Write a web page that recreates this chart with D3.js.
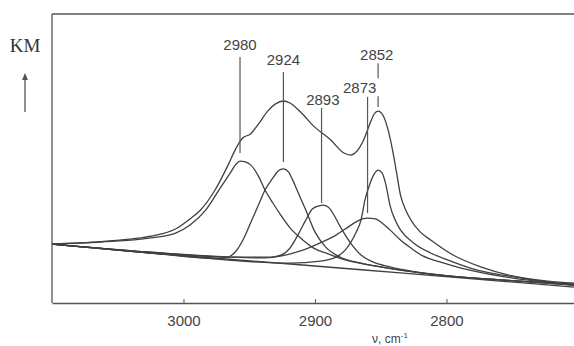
<!DOCTYPE html>
<html>
<head>
<meta charset="utf-8">
<script src="https://cdn.jsdelivr.net/npm/d3@7"></script>
<style>
  body { margin: 0; background: #fff; }
  svg { display: block; }
</style>
</head>
<body>
<svg id="chart" width="574" height="346"></svg>
<script>
// [wavenumber cm-1, KM (arb.)]
const baseline = [[3100,20.4],[3025,17.3],[2919,13.5],[2835,10.4],[2759,7.6],[2703,5.5]];

const envelope = [[3100,20.4],[3078,20.8],[3056,21.5],[3033,22.5],[3017,23.9],[3006,25.6],[2995,29.1],
  [2987,32.2],[2976,39.1],[2966,47.8],[2960,53.6],[2955,57.1],[2949,58.5],[2943,61.9],[2936,66.4],
  [2930,68.9],[2924,69.9],[2919,69.2],[2911,66.1],[2901,61.2],[2888,56.4],[2878,51.9],[2873,51.2],
  [2868,52.6],[2863,56.4],[2858,62.3],[2855,65.4],[2852,66.4],[2848,64.7],[2844,59.2],[2841,52.9],
  [2838,45.3],[2835,37.4],[2831,32.2],[2827,28.7],[2820,24.6],[2812,21.8],[2795,16.6],[2774,12.5],
  [2749,9.3],[2723,7.6],[2703,6.9]];

const band2980 = [[3100,20.4],[3063,21.1],[3025,22.5],[3006,24.2],[2995,27.0],[2983,32.2],[2972,39.8],
  [2964,45.3],[2960,48.1],[2957,49.1],[2953,48.8],[2949,47.8],[2943,43.9],[2938,39.1],[2932,34.6],
  [2926,30.4],[2919,26.0],[2911,22.5],[2901,19.0],[2890,17.0],[2877,14.9],[2858,13.1],[2835,11.4],
  [2797,9.3],[2759,8.0],[2703,6.6]];

const band2924 = [[3100,20.4],[3025,17.3],[2976,15.4],[2966,15.9],[2960,18.0],[2954,22.5],[2949,27.7],
  [2943,33.9],[2938,39.1],[2932,43.3],[2928,45.7],[2924,46.4],[2920,45.3],[2917,42.6],[2913,38.4],
  [2907,32.2],[2900,24.6],[2892,19.4],[2881,15.9],[2865,13.8],[2835,11.4],[2797,9.3],[2759,8.0],
  [2703,6.2]];

const band2893 = [[3100,20.4],[3025,17.6],[2964,15.9],[2938,15.6],[2926,16.6],[2919,19.0],[2913,23.5],
  [2907,28.7],[2902,32.5],[2897,33.6],[2894,33.9],[2890,33.2],[2886,30.8],[2881,26.6],[2873,20.8],
  [2865,16.6],[2856,14.2],[2843,12.5],[2797,9.3],[2759,8.0],[2703,6.2]];

const band2873 = [[3100,20.4],[3025,17.6],[2964,15.9],[2934,15.9],[2911,18.0],[2896,20.8],[2884,23.5],
  [2877,25.6],[2869,28.0],[2864,29.1],[2860,29.4],[2854,29.1],[2849,27.7],[2843,25.3],[2835,21.8],
  [2827,19.0],[2818,16.3],[2805,14.2],[2789,12.1],[2759,9.3],[2703,6.2]];

const band2852 = [[3100,20.4],[3025,17.3],[2919,13.8],[2896,14.5],[2884,15.9],[2877,18.3],[2869,24.2],
  [2865,28.7],[2862,35.6],[2858,41.5],[2855,44.6],[2852,46.0],[2849,45.0],[2846,40.8],[2843,33.9],
  [2839,28.7],[2835,25.3],[2825,20.8],[2812,17.3],[2799,14.9],[2782,12.1],[2744,8.7],[2703,6.2]];

const xTicks = [3000, 2900, 2800];

// peak markers: label, line position, line top/bottom (KM), label position
const peakLabels = ["2980", "2924", "2893", "2873", "2852"];
const peakLineWn = [2957, 2924, 2895, 2860, 2852];
const peakLineTop = [85.1, 79.9, 67.5, 71.3, 83.0];
const peakLineBottom = [51.9, 48.8, 34.6, 31.1, 67.8];
const peakLabelWn = [2957, 2924, 2894, 2866, 2853];
const peakLabelKM = [87.5, 82.3, 68.5, 72.7, 84.1];

const svg = d3.select("#chart");
const plotLeft = 52, plotRight = 574, plotTop = 14, plotBottom = 303;
const ink = "#404040";

const x = d3.scaleLinear().domain([3100, 2703]).range([plotLeft, plotRight]);
const y = d3.scaleLinear().domain([0, 100]).range([plotBottom, plotTop]);

// frame
svg.append("line").attr("x1", plotLeft).attr("x2", plotRight).attr("y1", plotTop).attr("y2", plotTop)
  .attr("stroke", "#555").attr("stroke-width", 1.6);
svg.append("line").attr("x1", plotLeft).attr("x2", plotLeft).attr("y1", plotTop).attr("y2", plotBottom)
  .attr("stroke", "#555").attr("stroke-width", 1.3);

// x axis
const xAxis = svg.append("g")
  .attr("transform", "translate(0," + plotBottom + ")")
  .call(d3.axisBottom(x).tickValues(xTicks).tickSizeInner(-4).tickSizeOuter(0).tickPadding(12)
    .tickFormat(d3.format("d")));
xAxis.select(".domain").attr("stroke", "#555").attr("stroke-width", 1.3);
xAxis.selectAll(".tick line").attr("stroke", "#555");
xAxis.selectAll("text").attr("font-family", "Liberation Sans, Arial, sans-serif")
  .attr("font-size", 15).attr("fill", "#444");

const line = d3.line()
  .x(d => x(d[0]))
  .y(d => y(d[1]))
  .curve(d3.curveMonotoneX);

const series = [baseline, band2980, band2924, band2893, band2873, band2852, envelope];
svg.append("g").selectAll("path")
  .data(series)
  .enter()
  .append("path")
  .attr("d", line)
  .attr("fill", "none")
  .attr("stroke", ink)
  .attr("stroke-width", 1.3);

// peak marker lines
const peaks = peakLabels.map((l, i) => ({
  label: l, wn: peakLineWn[i], t: peakLineTop[i], b: peakLineBottom[i],
  lx: peakLabelWn[i], ly: peakLabelKM[i]
}));

svg.append("g").selectAll("line")
  .data(peaks)
  .enter()
  .append("line")
  .attr("x1", d => x(d.wn)).attr("x2", d => x(d.wn))
  .attr("y1", d => y(d.t)).attr("y2", d => y(d.b))
  .attr("stroke", "#555").attr("stroke-width", 1.2)
  .attr("stroke-dasharray", d => d.label === "2852" ? "15,18,12" : null);

svg.append("g").selectAll("text")
  .data(peaks)
  .enter()
  .append("text")
  .attr("x", d => x(d.lx))
  .attr("y", d => y(d.ly))
  .attr("text-anchor", "middle")
  .attr("font-family", "Liberation Sans, Arial, sans-serif")
  .attr("font-size", 15)
  .attr("fill", "#444")
  .text(d => d.label);

// y label with arrow
svg.append("text").attr("x", 25).attr("y", 52).attr("text-anchor", "middle")
  .attr("font-family", "Liberation Serif, serif").attr("font-size", 19).attr("fill", "#333")
  .text("KM");
svg.append("line").attr("x1", 25).attr("x2", 25).attr("y1", 112).attr("y2", 78)
  .attr("stroke", "#555").attr("stroke-width", 1.3);
svg.append("path").attr("d", "M25,73 L22,80 L28,80 Z").attr("fill", "#555");

// x label
const xl = svg.append("text").attr("x", 390).attr("y", 343).attr("text-anchor", "middle")
  .attr("font-family", "Liberation Sans, Arial, sans-serif").attr("font-size", 12).attr("fill", "#444");
xl.append("tspan").text("ν, cm");
xl.append("tspan").attr("font-size", 8).attr("dy", -5).text("-1");
</script>
</body>
</html>
